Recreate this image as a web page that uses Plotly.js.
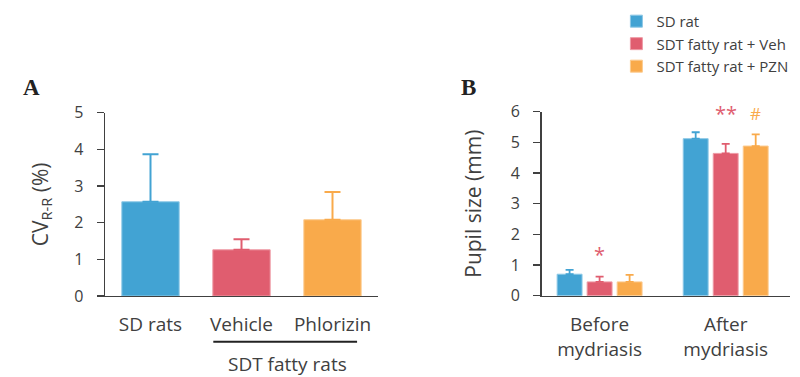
<!DOCTYPE html>
<html>
<head>
<meta charset="utf-8">
<script src="https://cdn.plot.ly/plotly-3.0.1.min.js"></script>
<style>html,body{margin:0;padding:0;background:#fff;}#chart{width:800px;height:377px;}</style>
</head>
<body>
<div id="chart"></div>
<script>
// Panel A data
const groupsA = ['SD rats', 'Vehicle', 'Phlorizin'];
const cvRR = [2.57, 1.26, 2.08];
const cvRRerr = [1.30, 0.29, 0.76];

// Panel B data
const phases = ['Before mydriasis', 'After mydriasis'];
const phaseLabels = ['Before<br>mydriasis', 'After<br>mydriasis'];
const seriesNames = ['SD rat', 'SDT fatty rat + Veh', 'SDT fatty rat + PZN'];
const pupilSD = [0.70, 5.12];
const pupilVeh = [0.45, 4.64];
const pupilPZN = [0.45, 4.88];
const errSD = [0.14, 0.21];
const errVeh = [0.17, 0.31];
const errPZN = [0.23, 0.38];

const colors = ['#42A3D3', '#E05D6F', '#F9AA4B'];
const edgeColors = ['#8cc8e6', '#ee9aa5', '#fccb8f'];
const FONT = 'Open Sans, sans-serif';
const AX = '#404040';

const tracesA = groupsA.map((g, i) => ({
  type: 'bar', x: [g], y: [cvRR[i]], xaxis: 'x', yaxis: 'y', width: 0.63,
  marker: {color: colors[i], line: {color: edgeColors[i], width: 1}},
  error_y: {type: 'data', symmetric: false, array: [cvRRerr[i]], arrayminus: [0], color: colors[i], thickness: 2, width: 8},
  showlegend: false, hoverinfo: 'skip'
}));

const bVals = [pupilSD, pupilVeh, pupilPZN];
const bErr = [errSD, errVeh, errPZN];
const tracesB = seriesNames.map((n, i) => ({
  type: 'bar', name: n, x: phases, y: bVals[i], xaxis: 'x2', yaxis: 'y2',
  marker: {color: colors[i], line: {color: edgeColors[i], width: 1}},
  error_y: {type: 'data', symmetric: false, array: bErr[i], arrayminus: [0, 0], color: colors[i], thickness: 1.8, width: 4},
  hoverinfo: 'skip'
}));

const axisY = {
  showline: true, linecolor: AX, linewidth: 1.5, ticks: 'outside', ticklen: 7, tickwidth: 1.5, tickcolor: AX,
  showgrid: false, zeroline: false, tickfont: {family: FONT, size: 16, color: AX}, dtick: 1, ticklabelstandoff: 10
};
const axisX = {
  showline: true, linecolor: AX, linewidth: 1.5, ticks: '', showgrid: false, zeroline: false,
  tickfont: {family: FONT, size: 19, color: AX}, type: 'category', ticklabelstandoff: 11
};

const layout = {
  width: 800, height: 377, margin: {l: 0, r: 0, t: 0, b: 0},
  paper_bgcolor: '#fff', plot_bgcolor: 'rgba(0,0,0,0)',
  barmode: 'group', bargap: 0.286, bargroupgap: 0.17,
  font: {family: FONT, color: AX},
  xaxis: Object.assign({}, axisX, {domain: [0.13125, 0.4725], range: [-0.5, 2.5], anchor: 'y'}),
  yaxis: Object.assign({}, axisY, {domain: [0.2149, 0.701], range: [0, 5], anchor: 'x',
    title: {text: 'CV<sub>R-R</sub> (%)', font: {family: FONT, size: 21, color: AX}, standoff: 20}}),
  xaxis2: Object.assign({}, axisX, {domain: [0.677, 0.9875], range: [-0.46, 1.51], anchor: 'y2',
    tickvals: phases, ticktext: phaseLabels}),
  yaxis2: Object.assign({}, axisY, {domain: [0.2157, 0.7037], range: [0, 6], anchor: 'x2',
    title: {text: 'Pupil size (mm)', font: {family: FONT, size: 21, color: AX}, standoff: 23}}),
  legend: {x: 0.7705, y: 0.987, xanchor: 'left', yanchor: 'top', font: {family: FONT, size: 15, color: AX},
    bgcolor: 'rgba(0,0,0,0)', traceorder: 'normal'},
  shapes: [
    {type: 'line', xref: 'x', yref: 'paper', x0: 0.69, x1: 2.27, y0: 1 - 341.7/377, y1: 1 - 341.7/377,
     line: {color: '#222', width: 2}}
  ],
  annotations: [
    {text: 'SDT fatty rats', xref: 'x', yref: 'paper', x: 1.5, y: 1 - 364/377, showarrow: false,
     font: {family: FONT, size: 19, color: AX}, xanchor: 'center', yanchor: 'middle'},
    {text: '<b>A</b>', xref: 'paper', yref: 'paper', x: 31/800, y: 1 - 87/377, showarrow: false,
     font: {family: 'Liberation Serif, serif', size: 23, color: '#222'}, xanchor: 'center', yanchor: 'middle'},
    {text: '<b>B</b>', xref: 'paper', yref: 'paper', x: 468/800, y: 1 - 87/377, showarrow: false,
     font: {family: 'Liberation Serif, serif', size: 23, color: '#222'}, xanchor: 'center', yanchor: 'middle'},
    {text: '*', xref: 'x2', yref: 'y2', x: phases[0], y: pupilVeh[0] + errVeh[0], yshift: 22, showarrow: false,
     font: {family: FONT, size: 20, color: colors[1]}, xanchor: 'center', yanchor: 'middle'},
    {text: '**', xref: 'x2', yref: 'y2', x: phases[1], y: pupilVeh[1] + errVeh[1], yshift: 30, showarrow: false,
     font: {family: FONT, size: 20, color: colors[1]}, xanchor: 'center', yanchor: 'middle'},
    {text: '#', xref: 'x2', yref: 'y2', x: phases[1], xshift: 30, y: pupilPZN[1] + errPZN[1], yshift: 21, showarrow: false,
     font: {family: FONT, size: 17, color: colors[2]}, xanchor: 'center', yanchor: 'middle'}
  ]
};

Plotly.newPlot('chart', tracesA.concat(tracesB), layout, {displayModeBar: false, staticPlot: true});
</script>
</body>
</html>
